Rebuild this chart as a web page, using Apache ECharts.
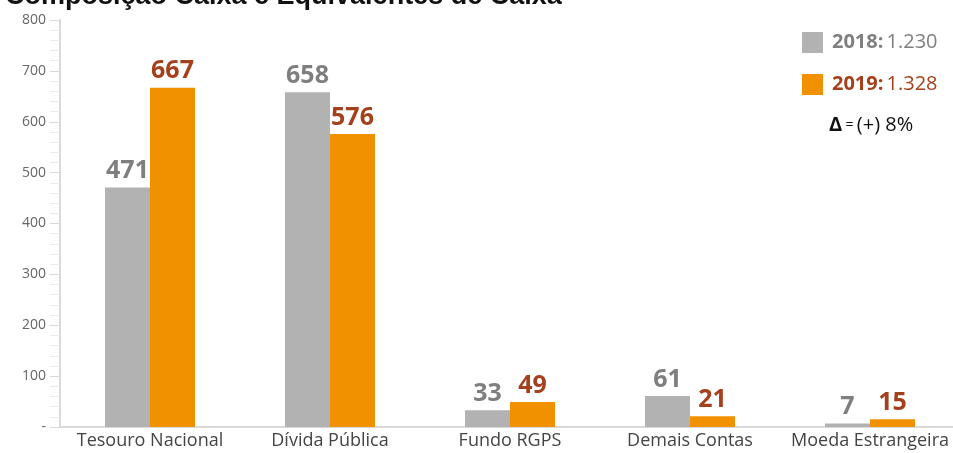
<!DOCTYPE html>
<html><head><meta charset="utf-8">
<script src="https://cdn.jsdelivr.net/npm/echarts@6/dist/echarts.min.js"></script>
<style>html,body{margin:0;padding:0;background:#fff}#c{width:953px;height:453px}</style>
</head><body><div id="c"></div>
<script>
const title = 'Composição Caixa e Equivalentes de Caixa';
const categories = ['Tesouro Nacional', 'Dívida Pública', 'Fundo RGPS', 'Demais Contas', 'Moeda Estrangeira'];
const seriesNames = ['2018', '2019'];
const values2018 = [471, 658, 33, 61, 7];
const values2019 = [667, 576, 49, 21, 15];
const totals = ['1.230', '1.328'];
const deltaText = '(+) 8%';

const FONT = '"Open Sans", Lato, sans-serif';
const chart = echarts.init(document.getElementById('c'));
chart.setOption({
  animation: false,
  title: { text: title, left: 0, top: -22, textStyle: { fontFamily: 'Arial, sans-serif', fontWeight: 'bold', fontSize: 27, color: '#111' } },
  grid: { left: 60, width: 900, top: 20, bottom: 26, containLabel: false, outerBoundsMode: 'none' },
  legend: {
    orient: 'vertical', left: 797, top: 27, itemWidth: 21, itemHeight: 21, itemGap: 21,
    icon: 'rect',
    formatter: function (name) {
      const i = seriesNames.indexOf(name);
      return i === 0 ? '{a|' + name + ':} {v|' + totals[0] + '}' : '{b|' + name + ':} {w|' + totals[1] + '}';
    },
    textStyle: {
      fontFamily: FONT, padding: [0, 0, 0, 4],
      rich: {
        a: { fontFamily: FONT, fontSize: 20, fontWeight: 'bold', color: '#808080' },
        v: { fontFamily: FONT, fontSize: 20, color: '#808080' },
        b: { fontFamily: FONT, fontSize: 20, fontWeight: 'bold', color: '#a5401d' },
        w: { fontFamily: FONT, fontSize: 20, color: '#a5401d' }
      }
    }
  },
  graphic: [{
    type: 'text', left: 829, top: 115,
    style: { rich: { d: { fontFamily: FONT, fontSize: 20, fontWeight: 'bold', fill: '#111' }, e: { fontFamily: FONT, fontSize: 14, fill: '#111' }, f: { fontFamily: FONT, fontSize: 20, fill: '#111' } }, text: '{d|Δ} {e|=} {f|' + deltaText + '}' }
  }],
  xAxis: {
    type: 'category', data: categories,
    axisLine: { lineStyle: { color: '#d9d9d9', width: 2 } },
    axisTick: { show: false },
    axisLabel: { interval: 0, fontFamily: FONT, fontSize: 18, color: '#444', margin: 5 }
  },
  yAxis: {
    type: 'value', min: 0, max: 800, interval: 100,
    axisLine: { show: true, lineStyle: { color: '#d9d9d9', width: 2 } },
    axisTick: { show: true, length: 10, lineStyle: { color: '#d9d9d9' } },
    minorTick: { show: true, splitNumber: 5, length: 10, lineStyle: { color: '#ececec' } },
    splitLine: { show: false },
    axisLabel: { fontFamily: FONT, fontSize: 14, color: '#666', margin: 14, formatter: v => v === 0 ? '-' : v }
  },
  series: [
    { name: seriesNames[0], type: 'bar', data: values2018, barWidth: 45, barGap: '0%',
      itemStyle: { color: '#b2b2b2' },
      label: { show: true, position: 'top', distance: 4, fontFamily: FONT, fontSize: 25, fontWeight: 'bold', color: '#7f7f7f' } },
    { name: seriesNames[1], type: 'bar', data: values2019, barWidth: 45,
      itemStyle: { color: '#f29100' },
      label: { show: true, position: 'top', distance: 4, fontFamily: FONT, fontSize: 25, fontWeight: 'bold', color: '#a5401d' } }
  ]
});
</script></body></html>
